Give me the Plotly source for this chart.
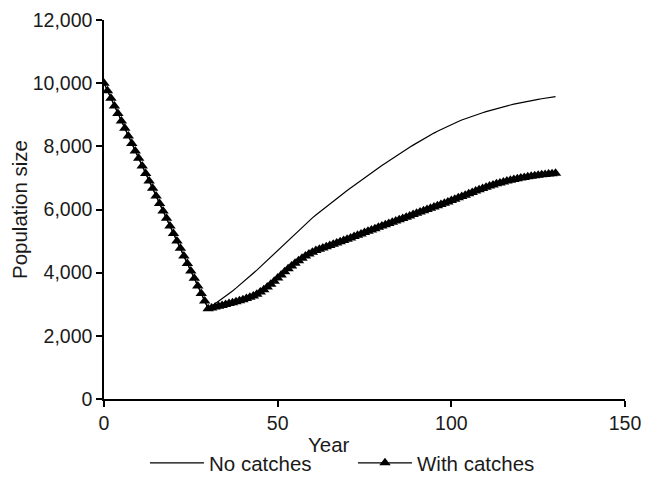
import plotly.graph_objects as go

years = list(range(0, 131))

decline = [10000, 9760, 9520, 9280, 9040, 8800, 8570, 8330, 8090, 7850,
           7620, 7380, 7140, 6900, 6670, 6430, 6190, 5950, 5720, 5480,
           5240, 5000, 4770, 4530, 4290, 4050, 3820, 3580, 3340, 3100, 2860]

no_catch_recovery = [2935, 3012, 3090, 3170, 3252, 3336, 3422, 3510, 3600, 3692,
                     3786, 3882, 3980, 4080, 4182, 4286, 4392, 4500, 4608, 4716,
                     4824, 4930, 5036, 5141, 5245, 5348, 5450, 5550, 5643, 5735,
                     5826, 5916, 6005, 6093, 6180, 6266, 6350, 6434, 6517, 6600,
                     6682, 6763, 6844, 6924, 7003, 7082, 7160, 7237, 7313, 7390,
                     7466, 7541, 7615, 7688, 7760, 7831, 7901, 7970, 8038, 8105,
                     8171, 8235, 8298, 8359, 8419, 8477, 8533, 8588, 8641, 8692,
                     8741, 8788, 8833, 8876, 8917, 8956, 8993, 9029, 9064, 9098,
                     9131, 9163, 9194, 9224, 9253, 9281, 9308, 9334, 9359, 9383,
                     9406, 9428, 9449, 9469, 9488, 9507, 9525, 9543, 9560, 9576]

catch_recovery = [2885, 2910, 2935, 2960, 2990, 3020, 3050, 3080, 3110, 3145,
                  3180, 3220, 3265, 3320, 3385, 3460, 3545, 3635, 3730, 3830,
                  3930, 4030, 4125, 4215, 4300, 4380, 4455, 4525, 4590, 4650,
                  4700, 4740, 4780, 4820, 4860, 4900, 4940, 4980, 5020, 5060,
                  5100, 5142, 5184, 5226, 5268, 5310, 5352, 5394, 5436, 5478,
                  5518, 5558, 5598, 5638, 5678, 5718, 5758, 5798, 5838, 5878,
                  5918, 5958, 5998, 6038, 6078, 6118, 6158, 6198, 6240, 6283,
                  6326, 6369, 6412, 6455, 6498, 6542, 6585, 6627, 6668, 6707,
                  6744, 6779, 6812, 6843, 6872, 6899, 6925, 6950, 6973, 6995,
                  7015, 7034, 7052, 7068, 7083, 7097, 7110, 7122, 7134, 7145]

no_catches = decline + no_catch_recovery
with_catches = decline + catch_recovery

x_ticks = [0, 50, 100, 150]
y_ticks = [0, 2000, 4000, 6000, 8000, 10000, 12000]

fig = go.Figure()
fig.add_trace(go.Scatter(
    x=years, y=no_catches, mode="lines", name="No catches",
    line=dict(color="black", width=1.2)))
fig.add_trace(go.Scatter(
    x=years, y=with_catches, mode="lines+markers", name="With catches",
    line=dict(color="black", width=1.2),
    marker=dict(symbol="triangle-up", size=10, color="black")))

font = dict(family="Liberation Sans, Arial, sans-serif", size=19.5, color="#1a1a1a")
fig.update_layout(
    width=641, height=481,
    margin=dict(l=95.5, r=23.5, t=12, b=90, autoexpand=False),
    paper_bgcolor="white", plot_bgcolor="white",
    font=font,
    showlegend=True,
    legend=dict(orientation="h", xref="container", yref="container",
                x=0.2137, xanchor="left", y=0.054, yanchor="middle",
                itemwidth=54, entrywidth=139,
                font=dict(size=20.5), tracegroupgap=0),
    annotations=[dict(text="Year", xref="paper", x=0.431, xanchor="center",
                      yref="paper", y=0, yanchor="middle", yshift=-45,
                      showarrow=False, font=dict(size=20.5))],
)
fig.update_xaxes(
    range=[0, 150], tickvals=x_ticks, showgrid=False, zeroline=False,
    showline=True, linecolor="black", linewidth=1.5, automargin=False,
    ticks="outside", ticklen=6, tickcolor="black", tickwidth=1.5,
    tickfont=dict(size=19.5))
fig.update_yaxes(
    range=[0, 12000], tickvals=y_ticks, tickformat=",d", showgrid=False,
    zeroline=False, showline=True, linecolor="black", linewidth=1.5,
    automargin=False,
    ticks="outside", ticklen=6, tickcolor="black", tickwidth=1.5,
    tickfont=dict(size=19.5),
    title=dict(text="Population size", standoff=6, font=dict(size=20.5)))

fig.write_html("out.html")
